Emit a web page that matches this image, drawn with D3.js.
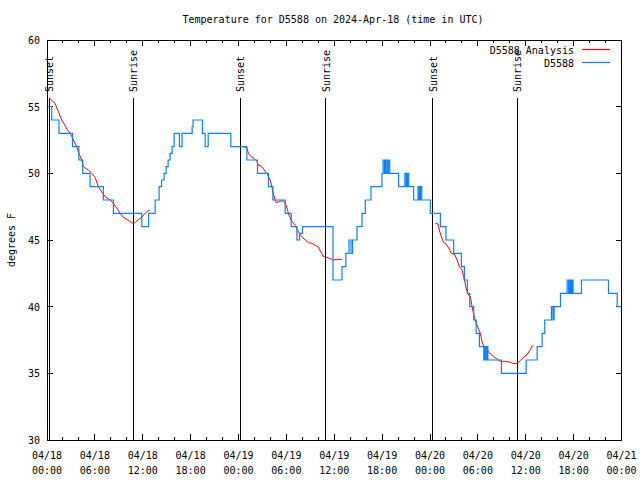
<!DOCTYPE html>
<html><head><meta charset="utf-8">
<script src="https://cdn.jsdelivr.net/npm/d3@7"></script>
<style>
body{margin:0;background:#fff;}
text{font-family:"DejaVu Sans Mono",monospace;font-size:10px;fill:#000;}
</style></head>
<body>
<svg id="chart" width="640" height="480"></svg>
<script>
// ---- data (hours since 2024-04-18 00:00 UTC) ----
const title = "Temperature for D5588 on 2024-Apr-18 (time in UTC)";
const yLabel = "degrees F";
const seriesNames = ["D5588 Analysis", "D5588"];

// Observed station temperature (step changes)
const obsHours = [0.0,0.59,1.5,3.2,4.0,4.48,5.4,7.06,8.32,11.88,12.73,13.55,14.05,14.36,14.68,14.93,15.18,15.43,15.68,15.93,16.6,16.93,18.19,18.31,19.48,19.82,20.2,23.04,25.05,26.38,27.76,28.31,29.85,30.61,31.32,31.65,32.02,35.84,36.97,37.45,37.85,38.1,38.3,38.85,39.48,39.89,40.6,41.98,42.12,42.3,42.45,42.62,42.78,42.95,44.07,44.85,45.02,45.17,45.33,45.95,46.5,46.66,46.8,46.96,48.04,49.3,50.0,50.96,51.93,52.31,52.68,52.98,53.48,53.78,54.19,54.74,54.86,55.02,55.12,55.25,56.95,60.05,61.43,62.05,62.38,63.22,63.41,63.55,64.35,65.19,65.38,65.52,65.67,65.78,65.93,66.98,70.37,71.46,72.0];
const obsTemp  = [55,54,53,52,51,50,49,48,47,46,47,48,49,49.5,50,50.5,51,51.5,52,53,52,53,53.5,54,53,52,53,52,51,50,49,48,47,46,45,45.5,46,42,43,44,45,44,45,46,47,48,49,50,51,50,51,50,51,50,49,50,49,50,49,48,49,48,49,48,47,46,45,44,43,42,41,40,39,38,37,36,37,36,37,36,35,36,37,38,39,40,39,40,41,42,41,42,41,42,41,42,41,40,40];

// Analysis (three separate segments)
const anaHours1 = [0.29,1.0,1.51,1.84,2.26,2.6,2.89,3.3,3.73,3.93,4.35,4.55,4.77,5.18,5.61,6.02,6.44,6.86,7.28,7.9,8.32,8.74,9.16,9.57,10.0,10.41,10.7,11.04,11.45,11.88,12.29,12.71,12.88];
const anaTemp1  = [55.65,55.25,54.5,54.0,53.6,53.2,53.05,52.5,52.0,51.6,51.0,50.5,50.4,50.25,50.0,49.7,49.0,48.6,48.25,48.0,47.75,47.4,47.0,46.7,46.55,46.4,46.25,46.3,46.55,46.7,47.0,47.2,47.2];
const anaHours2 = [24.62,25.05,25.25,25.55,25.97,26.3,26.5,26.84,27.22,27.63,27.97,28.19,28.31,28.6,28.73,29.14,29.64,29.98,30.14,30.39,30.69,31.11,31.4,31.65,31.95,32.36,32.78,33.2,33.62,33.96,34.33,34.66,35.09,35.5,35.91,36.34,36.97];
const anaTemp2  = [52.0,51.9,51.5,51.25,51.1,50.9,50.6,50.55,50.25,49.9,49.5,49.0,48.6,48.0,47.8,47.9,47.95,47.6,47.25,46.75,46.4,46.1,45.75,45.45,45.25,45.0,44.8,44.75,44.6,44.5,44.1,43.75,43.7,43.6,43.5,43.55,43.55];
const anaHours3 = [48.67,49.01,49.17,49.42,49.71,50.01,50.34,50.68,51.09,51.39,51.68,52.02,52.22,52.52,52.77,53.06,53.27,53.6,53.9,54.31,54.52,54.73,55.15,55.57,55.98,56.41,56.82,57.45,58.08,58.37,58.92,59.33,59.75,60.17,60.59,60.8,61.0];
const anaTemp3  = [46.25,46.2,45.75,45.25,44.8,44.7,44.4,44.0,43.9,43.5,43.0,42.75,42.25,41.4,40.95,40.75,40.0,39.1,38.6,38.0,37.4,37.0,36.75,36.45,36.25,36.07,35.9,35.9,35.83,35.75,35.75,35.95,36.2,36.4,36.8,37.05,37.05];

// Sun events
const sunHours  = [0.29,10.83,24.21,34.96,48.33,58.92];
const sunLabels = ["Sunset","Sunrise","Sunset","Sunrise","Sunset","Sunrise"];

const yTicks = [30,35,40,45,50,55,60];

// ---- drawing ----
const t0 = Date.UTC(2024,3,18,0,0);
const toDate = h => new Date(t0 + h*3600000);
const svg = d3.select("#chart");
const L=47, R=621.5, T=40, B=440;
const x = d3.scaleUtc().domain([toDate(0), toDate(72)]).range([L,R]);
const y = d3.scaleLinear().domain([30,60]).range([B,T]);

// title
svg.append("text").attr("x",333).attr("y",23).attr("text-anchor","middle").text(title);
// y label
svg.append("text").attr("transform","translate(15,240) rotate(-90)").attr("text-anchor","middle").text(yLabel);

// x ticks
const minorTicks = d3.range(0,73,2).map(toDate);
const majorTicks = d3.range(0,73,6).map(toDate);
const g = svg.append("g");
g.selectAll(".xmin").data(minorTicks).join("path")
  .attr("d",d=>`M${x(d)},${B}v-3M${x(d)},${T}v3`).attr("stroke","#000").attr("shape-rendering","crispEdges");
g.selectAll(".xmaj").data(majorTicks).join("path")
  .attr("d",d=>`M${x(d)},${B}v-6M${x(d)},${T}v6`).attr("stroke","#000").attr("shape-rendering","crispEdges");
const fDay = d3.utcFormat("%m/%d"), fTime = d3.utcFormat("%H:%M");
const xl = g.selectAll(".xl").data(majorTicks).join("text")
  .attr("x",d=>x(d)).attr("text-anchor","middle");
xl.append("tspan").attr("x",d=>x(d)).attr("y",459).text(d=>fDay(d));
xl.append("tspan").attr("x",d=>x(d)).attr("y",474).text(d=>fTime(d));

// y ticks
g.selectAll(".yt").data(yTicks).join("path")
  .attr("d",d=>`M${L},${y(d)}h6M${R},${y(d)}h-6`).attr("stroke","#000").attr("shape-rendering","crispEdges");
g.selectAll(".yl").data(yTicks).join("text")
  .attr("x",40).attr("y",d=>y(d)+4).attr("text-anchor","end").text(d=>d);

// sun lines
const sg = svg.append("g");
sg.selectAll("line").data(sunHours).join("line")
  .attr("x1",d=>x(toDate(d))).attr("x2",d=>x(toDate(d)))
  .attr("y1",98).attr("y2",B).attr("stroke","#000").attr("shape-rendering","crispEdges");
sg.selectAll("text").data(sunHours).join("text")
  .attr("transform",d=>`translate(${x(toDate(d))+4},92) rotate(-90)`)
  .text((d,i)=>sunLabels[i]);

// analysis
const lineA = d3.line().x(d=>x(toDate(d[0]))).y(d=>y(d[1]));
[[anaHours1,anaTemp1],[anaHours2,anaTemp2],[anaHours3,anaTemp3]].forEach(([hs,ts])=>{
  svg.append("path").datum(hs.map((h,i)=>[h,ts[i]]))
    .attr("d",lineA).attr("fill","none").attr("stroke","#ff0000").attr("stroke-width",1);
});
// observations
const lineO = d3.line().x(d=>x(toDate(d[0]))).y(d=>y(d[1])).curve(d3.curveStepAfter);
svg.append("path").datum(obsHours.map((h,i)=>[h,obsTemp[i]]))
  .attr("d",lineO).attr("fill","none").attr("stroke","#0a80ff").attr("stroke-width",1.2);

// border
svg.append("rect").attr("x",L).attr("y",T).attr("width",R-L).attr("height",B-T)
  .attr("fill","none").attr("stroke","#000").attr("shape-rendering","crispEdges");

// legend
const legColors = ["#ff0000","#0a80ff"];
seriesNames.forEach((n,i)=>{
  svg.append("text").attr("x",574).attr("y",54+i*13).attr("text-anchor","end").text(n);
  svg.append("line").attr("x1",582).attr("x2",610).attr("y1",49.5+i*13).attr("y2",49.5+i*13)
    .attr("stroke",legColors[i]).attr("stroke-width",1.2);
});
</script>
</body></html>
